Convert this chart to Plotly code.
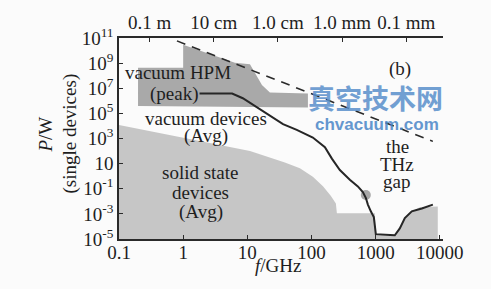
import plotly.graph_objects as go

# ---------------- data ----------------
# solid state devices (Avg) region outline: frequency (GHz), power (W)
ss_f = [0.1, 0.96, 11, 38.5, 66, 105, 151, 201, 240, 249, 972, 1007, 1990, 2380, 2850, 3660, 4880, 9300, 9300, 0.1]
ss_p = [1.17e4, 1.2e3, 102, 12.4, 4.3, 0.9, 0.155, 0.027, 6.6e-3, 1.14e-3, 1.14e-3, 1.7e-5, 1.7e-5, 6.9e-5, 4.7e-4, 1.6e-3, 3.3e-3, 3.9e-3, 1e-5, 1e-5]

# vacuum HPM (peak) region outline
hpm_f = [0.198, 1.0, 1.0, 6.4, 11, 12.2, 16.9, 22.5, 88, 88, 0.198]
hpm_p = [4.3e8, 4.3e8, 2.9e10, 1.05e9, 8.0e8, 3.1e8, 1.85e7, 4.5e6, 3.8e6, 3.0e5, 3.9e5]

# vacuum devices (Avg) curve
vac_f = [1.8, 5.8, 8.5, 14.6, 24, 36, 59, 105, 162, 208, 277, 396, 528, 632, 703, 757, 841, 937, 972, 1007, 1990, 2380, 2850, 3660, 5250, 7800]
vac_p = [3.8e6, 3.8e6, 1.6e6, 2.7e5, 5.6e4, 1.4e4, 4.9e3, 1.2e3, 205, 25, 3.1, 0.53, 0.155, 0.054, 0.019, 5.5e-3, 1.6e-3, 5.6e-4, 1.17e-4, 2.4e-5, 2.0e-5, 6.9e-5, 4.7e-4, 1.6e-3, 2.7e-3, 5.5e-3]

# 1/f^2 limit (dashed)
lim_f = [0.8, 7800]
lim_p = [5.9e10, 590]

# marked point
dot_f = [703]
dot_p = [0.032]

# axes ticks
x_ticks = [0.1, 1, 10, 100, 1000, 10000]
x_ticktext = ["0.1", "1", "10", "100", "1000", "10000"]
top_ticks = [0.3, 3, 30, 300, 3000]
top_ticktext = ["0.1 m", "10 cm", "1.0 cm", "1.0 mm", "0.1 mm"]
y_ticks = [1e-5, 1e-3, 1e-1, 10, 1e3, 1e5, 1e7, 1e9, 1e11]
y_ticktext = ["10<sup>-5</sup>", "10<sup>-3</sup>", "10<sup>-1</sup>", "10",
              "10<sup>3</sup>", "10<sup>5</sup>", "10<sup>7</sup>", "10<sup>9</sup>", "10<sup>11</sup>"]

# ---------------- figure ----------------
SERIF = "Liberation Serif"
INK = "#1e1e1e"
FS = 19
fig = go.Figure()

fig.add_trace(go.Scatter(x=ss_f, y=ss_p, fill="toself", fillcolor="#c6c6c6",
                         line=dict(width=0), mode="lines", hoverinfo="skip"))
fig.add_trace(go.Scatter(x=hpm_f, y=hpm_p, fill="toself", fillcolor="#a9a9a9",
                         line=dict(width=0), mode="lines", hoverinfo="skip"))
fig.add_trace(go.Scatter(x=lim_f, y=lim_p, mode="lines", xaxis="x2",
                         line=dict(color="#2a2a2a", width=1.6, dash="9px,7px")))
fig.add_trace(go.Scatter(x=dot_f, y=dot_p, mode="markers",
                         marker=dict(size=10, color="#a8a8a8")))
fig.add_trace(go.Scatter(x=vac_f, y=vac_p, mode="lines",
                         line=dict(color="#262626", width=2)))

axis_common = dict(type="log", range=[-1, 4.05], showgrid=False, zeroline=False,
                   showline=True, linecolor="#2a2a2a", linewidth=1.5,
                   ticks="inside", ticklen=4, tickcolor="#2a2a2a",
                   tickfont=dict(family=SERIF, size=FS, color=INK))

fig.update_layout(
    width=491, height=289,
    margin=dict(l=119, r=48, t=29, b=50),
    paper_bgcolor="#fbfbfb", plot_bgcolor="#fbfbfb",
    showlegend=False,
    xaxis=dict(**axis_common, tickvals=x_ticks, ticktext=x_ticktext,
               ticklabelstandoff=-5),
    xaxis2=dict(**axis_common, overlaying="x", side="top",
                tickvals=top_ticks, ticktext=top_ticktext),
    yaxis=dict(type="log", range=[-5, 11], showgrid=False, zeroline=False,
               showline=True, linecolor="#2a2a2a", linewidth=1.5,
               ticks="inside", ticklen=4, tickcolor="#2a2a2a",
               tickvals=y_ticks, ticktext=y_ticktext,
               tickfont=dict(family=SERIF, size=FS, color=INK)),
)

def txt(s, x, y, size=FS, family=SERIF, color=INK, angle=0, opacity=1.0):
    fig.add_annotation(text=s, x=x, y=y, xref="paper", yref="paper",
                       showarrow=False, xanchor="center", yanchor="middle",
                       textangle=angle, opacity=opacity,
                       font=dict(family=family, size=size, color=color))

txt("vacuum HPM", 0.182, 0.829)
txt("(peak)", 0.170, 0.719)
txt("vacuum devices", 0.269, 0.600)
txt("(Avg)", 0.269, 0.510)
txt("solid state", 0.253, 0.329)
txt("devices", 0.253, 0.233)
txt("(Avg)", 0.253, 0.133)
txt("(b)", 0.867, 0.848)
txt("the", 0.861, 0.462)
txt("THz", 0.858, 0.371)
txt("gap", 0.858, 0.285)
txt("<i>f</i>/GHz", 0.491, -0.130)
txt("<i>P</i>/W", -0.228, 0.520, angle=-90)
txt("(single devices)", -0.151, 0.525, angle=-90)
# watermark
txt("<b>真空技术网</b>", 0.793, 0.705, size=27, family="Noto Sans CJK SC", color="#5a90cc", opacity=0.85)
txt("<b>chvacuum.com</b>", 0.796, 0.570, size=17, family="Liberation Sans", color="#4a86c8", opacity=0.85)

fig.write_html("out.html")
